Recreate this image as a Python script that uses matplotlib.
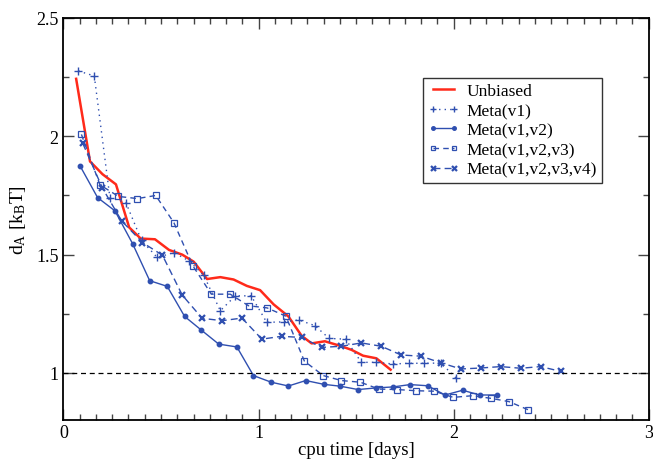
import matplotlib
matplotlib.use("Agg")
import matplotlib.pyplot as plt
from matplotlib.ticker import MultipleLocator

plt.rcParams['font.family'] = ['Liberation Serif', 'DejaVu Serif']
plt.rcParams['mathtext.fontset'] = 'custom'
plt.rcParams['mathtext.rm'] = 'Liberation Serif'
plt.rcParams['mathtext.it'] = 'Liberation Serif'

# Unbiased
t_unb = [0.065, 0.136, 0.20, 0.269, 0.337, 0.396, 0.469, 0.541, 0.609, 0.668, 0.736,
         0.804, 0.872, 0.94, 1.008, 1.077, 1.153, 1.221, 1.272, 1.34, 1.417, 1.476,
         1.536, 1.604, 1.677]
d_unb = [2.243, 1.894, 1.84, 1.797, 1.615, 1.568, 1.565, 1.52, 1.50, 1.47, 1.397,
         1.405, 1.395, 1.368, 1.35, 1.29, 1.239, 1.157, 1.125, 1.134, 1.115, 1.098,
         1.073, 1.062, 1.014]

# Meta(v1)
t_v1 = [0.077, 0.158, 0.238, 0.32, 0.40, 0.481, 0.566, 0.643, 0.719, 0.804, 0.881,
        0.962, 1.042, 1.128, 1.207, 1.289, 1.362, 1.446, 1.527, 1.604, 1.689, 1.769,
        1.85, 1.935, 2.012]
d_v1 = [2.276, 2.255, 1.741, 1.72, 1.56, 1.488, 1.509, 1.474, 1.413, 1.263, 1.326,
        1.326, 1.214, 1.216, 1.224, 1.2, 1.146, 1.143, 1.045, 1.045, 1.038, 1.041,
        1.041, 1.042, 0.979]

# Meta(v1,v2)
t_v12 = [0.085, 0.175, 0.264, 0.354, 0.442, 0.532, 0.621, 0.707, 0.796, 0.889, 0.974,
         1.065, 1.153, 1.242, 1.335, 1.42, 1.51, 1.604, 1.689, 1.777, 1.867, 1.956,
         2.046, 2.134, 2.224]
d_v12 = [1.875, 1.741, 1.685, 1.547, 1.39, 1.366, 1.239, 1.181, 1.122, 1.11, 0.989,
         0.961, 0.945, 0.968, 0.952, 0.944, 0.93, 0.937, 0.941, 0.951, 0.946, 0.907,
         0.927, 0.907, 0.907]

# Meta(v1,v2,v3)
t_v123 = [0.092, 0.187, 0.282, 0.379, 0.473, 0.566, 0.663, 0.758, 0.855, 0.949, 1.044,
          1.14, 1.235, 1.332, 1.425, 1.522, 1.617, 1.711, 1.808, 1.901, 1.998, 2.097,
          2.19, 2.284, 2.381]
d_v123 = [2.008, 1.795, 1.746, 1.737, 1.75, 1.635, 1.453, 1.333, 1.333, 1.284, 1.275,
          1.24, 1.05, 0.989, 0.968, 0.961, 0.932, 0.93, 0.925, 0.923, 0.897, 0.904,
          0.893, 0.879, 0.845]

# Meta(v1,v2,v3,v4)
t_v1234 = [0.099, 0.2, 0.298, 0.405, 0.507, 0.609, 0.711, 0.813, 0.915, 1.017, 1.119,
           1.221, 1.323, 1.425, 1.527, 1.629, 1.731, 1.833, 1.935, 2.037, 2.139, 2.241,
           2.344, 2.446, 2.548]
d_v1234 = [1.97, 1.781, 1.643, 1.551, 1.498, 1.329, 1.231, 1.221, 1.232, 1.143, 1.155,
           1.15, 1.108, 1.113, 1.127, 1.113, 1.076, 1.071, 1.043, 1.017, 1.021, 1.027,
           1.02, 1.027, 1.007]

blue = '#2f4fb0'
red = '#ff2a1a'

fig = plt.figure(figsize=(6.53, 4.6), dpi=100)
ax = fig.add_axes([0.0972, 0.0841, 0.8962, 0.8746])

ax.plot(t_unb, d_unb, color=red, lw=1.8, label='Unbiased')
ax.plot(t_v1, d_v1, color=blue, lw=1.0, ls=(0, (1, 3)), marker='+', ms=6, mew=1.0,
        label='Meta(v1)')
ax.plot(t_v12, d_v12, color=blue, lw=1.0, ls='-', marker='o', ms=3.2,
        label='Meta(v1,v2)')
ax.plot(t_v123, d_v123, color=blue, lw=1.0, ls=(0, (4, 3)), marker='s', ms=4.2,
        mfc='none', mew=0.9, label='Meta(v1,v2,v3)')
ax.plot(t_v1234, d_v1234, color=blue, lw=1.0, ls=(0, (5, 3)), marker='x', ms=4.5,
        mew=1.6, label='Meta(v1,v2,v3,v4)')
ax.axhline(1.0, color='black', lw=0.9, ls=(0, (4, 3)))

ax.set_xlim(0, 3)
ax.set_ylim(0.8, 2.5)
ax.xaxis.set_minor_locator(MultipleLocator(1 / 12))
ax.yaxis.set_minor_locator(MultipleLocator(0.25))
ax.set_xticks([0, 1, 2, 3])
ax.set_xticklabels(['0', '1', '2', '3'])
ax.set_yticks([1, 1.5, 2, 2.5])
ax.set_yticklabels(['1', '1.5', '2', '2.5'])
ax.tick_params(which='both', direction='in', top=True, right=True, labelsize=13,
               width=1.0, color='#444444')
ax.tick_params(which='major', length=8)
ax.tick_params(which='minor', length=4)
ax.tick_params(axis='x', pad=3)
for s in ax.spines.values():
    s.set_linewidth(1.3)

ax.set_xlabel('cpu time [days]', fontsize=13.5, labelpad=0)
ax.set_ylabel(r'd$_\mathrm{A}$ [k$_\mathrm{B}$T]', fontsize=14, labelpad=6)

leg = ax.legend(loc='upper left', bbox_to_anchor=(0.614, 0.851), fontsize=12.5,
                frameon=True, fancybox=False, edgecolor='black', handlelength=1.8,
                handletextpad=0.4, labelspacing=0.2, borderpad=0.3,
                borderaxespad=0, numpoints=2, markerscale=0.8)
leg.get_frame().set_linewidth(1.0)

fig.savefig('out.png', dpi=100)
